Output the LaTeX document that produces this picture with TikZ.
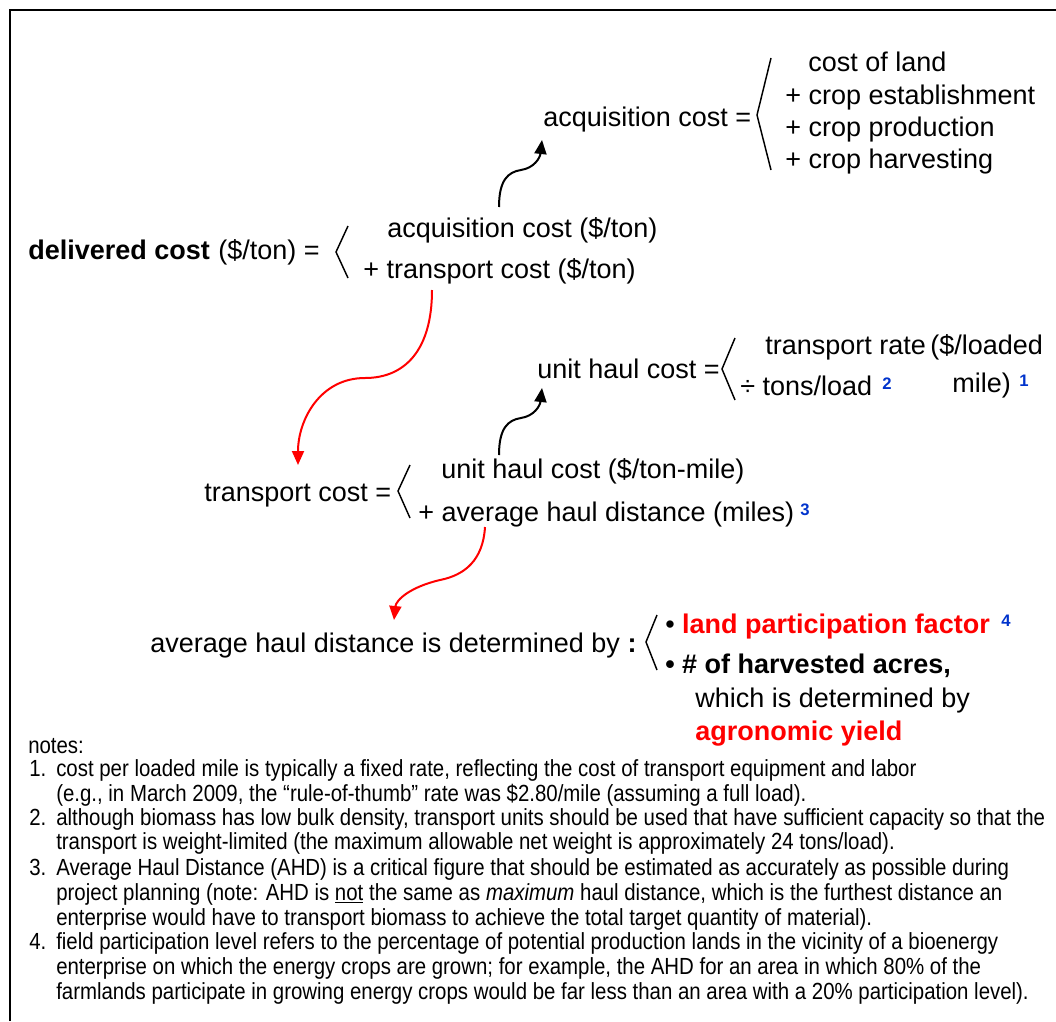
\documentclass[tikz,border=0pt]{standalone}
\usepackage{fontspec}
\setmainfont{Liberation Sans}
\newfontfamily\notefont{Liberation Sans}[FakeStretch=0.875]
\usetikzlibrary{arrows.meta}
\definecolor{supblue}{RGB}{0,51,204}
\definecolor{hotred}{RGB}{255,0,0}
\newcommand\mainsize{\fontsize{20.25pt}{24pt}\selectfont}
\newcommand\notesize{\notefont\fontsize{17.5pt}{19pt}\selectfont}
\newcommand\supsize{\fontsize{12.5pt}{14pt}\selectfont\bfseries\color{supblue}}

\begin{document}
\begin{tikzpicture}[x=0.75pt,y=-0.75pt,
  txt/.style={anchor=mid west,inner sep=0pt,yshift=-4.8pt,font=\mainsize},
  sup/.style={anchor=mid west,inner sep=0pt,yshift=-4.8pt,font=\supsize},
  note/.style={anchor=mid west,inner sep=0pt,yshift=-2.6pt,font=\notesize},
  brk/.style={line width=1.1pt,line join=miter},
  blackarrow/.style={line width=1.5pt,-{Triangle[length=10.5pt,width=9pt]}},
  redarrow/.style={blackarrow,draw=hotred}]

\useasboundingbox (0,0) rectangle (1056,1021);

% frame
\draw[line width=1.9pt] (10,1021) -- (10,10) -- (1056,10);

% acquisition cost breakdown
\node[txt] (ac) at (543,117) {acquisition cost =};
\node[txt] (cl) at (808,62) {cost of land};
\node[txt] (ce) at (785,95) {+ crop establishment};
\node[txt] (cp) at (785,127) {+ crop production};
\node[txt] (ch) at (785,159) {+ crop harvesting};
\draw[brk] (771,58) -- (757,115) -- (771,170);

% delivered cost
\node[txt,font=\mainsize\bfseries] (dc) at (28,250) {delivered cost};
\node[txt] (dcu) at (218,250) {(\$/ton) =};
\draw[brk] (348,226) -- (336,252) -- (348,278);
\node[txt] (acq) at (387,228) {acquisition cost (\$/ton)};
\node[txt] (tc) at (363,269) {+ transport cost (\$/ton)};

% unit haul cost breakdown
\node[txt] (uhc) at (537,369) {unit haul cost =};
\draw[brk] (735,338) -- (722,369) -- (735,400);
\node[txt] (tr) at (765,345) {transport rate};
\node[txt] (trl) at (930,345) {(\$/loaded};
\node[txt] (tl) at (740,386) {÷ tons/load};
\node[sup] (s2) at (882,380) {2};
\node[txt] (mi) at (952,383) {mile)};
\node[sup] (s1) at (1019,377) {1};

% transport cost
\node[txt] (tcl) at (204,492) {transport cost =};
\draw[brk] (410,465) -- (398,491) -- (410,518);
\node[txt] (uh2) at (441,469) {unit haul cost (\$/ton-mile)};
\node[txt] (ahd) at (418,512) {+ average haul distance (miles)};
\node[sup] (s3) at (800,506) {3};

% average haul distance
\node[txt] (ahdl) at (150,643) {average haul distance is determined by \textbf{:}};
\draw[brk] (657,615) -- (646,642) -- (657,670);
\node[txt] (lpf) at (665,624) {• \textcolor{hotred}{\textbf{land participation factor}}};
\node[sup] (s4) at (1001,617) {4};
\node[txt,font=\mainsize\bfseries] (nha) at (665,664) {• \# of harvested acres,};
\node[txt] (wid) at (695,698) {which is determined by};
\node[txt,font=\mainsize\bfseries,text=hotred] (ay) at (695,731) {agronomic yield};

% connectors
\coordinate (a1s) at (499,207); \coordinate (a1e) at (542,140);
\draw[blackarrow] (a1s) .. controls (499,180) and (508,172) .. (521,170)
  .. controls (534,168) and (540,158) .. (a1e);
\coordinate (a2s) at (499,455); \coordinate (a2e) at (542,388);
\draw[blackarrow] (a2s) .. controls (499,428) and (508,420) .. (521,418)
  .. controls (534,416) and (540,406) .. (a2e);
\coordinate (r1s) at (432,290); \coordinate (r1e) at (298,465);
\draw[redarrow] (r1s) .. controls (432,350) and (405,378) .. (365,378)
  .. controls (320,378) and (298,420) .. (r1e);
\coordinate (r2s) at (485,527); \coordinate (r2e) at (394,620);
\draw[redarrow] (r2s) .. controls (483,560) and (465,575) .. (440,580)
  .. controls (410,587) and (396,600) .. (r2e);

% notes
\node[note] (nt) at (28,746) {notes:};
\node[note] (n1) at (29,769) {1.};
\node[note] (n1a) at (56,769) {cost per loaded mile is typically a fixed rate, reflecting the cost of transport equipment and labor};
\node[note] (n1b) at (56,794) {(e.g., in March 2009, the “rule-of-thumb” rate was \$2.80/mile (assuming a full load).};
\node[note] (n2) at (29,818) {2.};
\node[note] (n2a) at (56,818) {although biomass has low bulk density, transport units should be used that have sufficient capacity so that the};
\node[note] (n2b) at (56,842) {transport is weight-limited (the maximum allowable net weight is approximately 24 tons/load).};
\node[note] (n3) at (29,868) {3.};
\node[note] (n3a) at (56,868) {Average Haul Distance (AHD) is a critical figure that should be estimated as accurately as possible during};
\node[note] (n3b) at (56,893) {project planning (note: AHD is \underline{not} the same as \textit{maximum} haul distance, which is the furthest distance an};
\node[note] (n3c) at (56,918) {enterprise would have to transport biomass to achieve the total target quantity of material).};
\node[note] (n4) at (29,942) {4.};
\node[note] (n4a) at (56,942) {field participation level refers to the percentage of potential production lands in the vicinity of a bioenergy};
\node[note] (n4b) at (56,967) {enterprise on which the energy crops are grown; for example, the AHD for an area in which 80\% of the};
\node[note] (n4c) at (56,992) {farmlands participate in growing energy crops would be far less than an area with a 20\% participation level).};
\end{tikzpicture}
\end{document}
